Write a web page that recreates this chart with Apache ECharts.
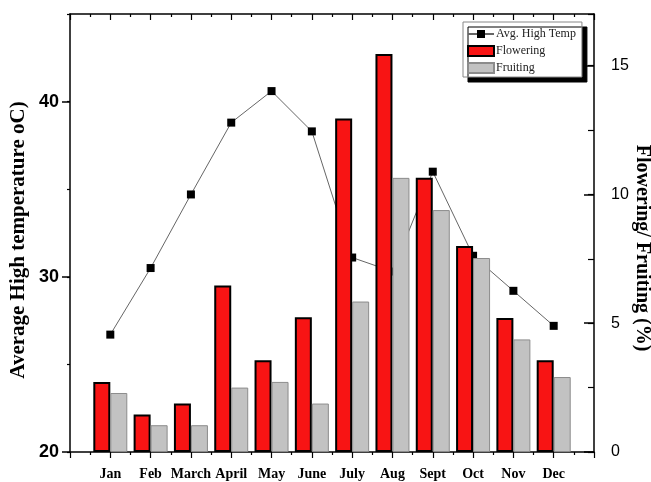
<!DOCTYPE html>
<html><head><meta charset="utf-8">
<script src="https://cdn.jsdelivr.net/npm/echarts@6/dist/echarts.min.js"></script>
<style>html,body{margin:0;padding:0;background:#fff}#c{width:651px;height:482px}</style>
</head><body><div id="c"></div><script>
const months = ['Jan','Feb','March','April','May','June','July','Aug','Sept','Oct','Nov','Dec'];
const avgHighTemp = [26.7, 30.5, 34.7, 38.8, 40.6, 38.3, 31.1, 30.3, 36.0, 31.2, 29.2, 27.2];
const flowering = [2.72, 1.46, 1.88, 6.46, 3.56, 5.23, 12.94, 15.45, 10.64, 8.0, 5.2, 3.56];
const fruiting = [2.29, 1.04, 1.04, 2.5, 2.72, 1.88, 5.84, 10.64, 9.39, 7.53, 4.37, 2.91];

const serif = 'Liberation Serif, Times New Roman, serif';
const sans = 'Liberation Sans, Arial, sans-serif';
const black = { color: '#000', width: 1.5 };
const tickStyle = { color: '#000', width: 1.5 };
const minorStyle = { color: '#000', width: 1.2 };

const chart = echarts.init(document.getElementById('c'), null, { renderer: 'canvas' });
const xBase = {
  type: 'value', min: 0, max: 13, interval: 1,
  axisLine: { show: true, onZero: false, lineStyle: black },
  splitLine: { show: false }, minorSplitLine: { show: false },
  minorTick: { show: true, splitNumber: 2, length: 3, lineStyle: minorStyle }
};
chart.setOption({
  animation: false,
  backgroundColor: '#fff',
  grid: { left: 70, right: 57, top: 14, bottom: 30, containLabel: false, outerBoundsMode: 'none' },
  legend: {
    orient: 'vertical', left: 463, top: 22,
    padding: [6, 6, 3, 4], itemGap: 5, itemWidth: 26, itemHeight: 10,
    backgroundColor: '#fff', borderColor: '#888', borderWidth: 1,
    shadowColor: '#000', shadowBlur: 0, shadowOffsetX: 5, shadowOffsetY: 5,
    textStyle: { fontFamily: serif, fontSize: 12, color: '#222', padding: [0, 0, 0, -3] },
    data: ['Avg. High Temp', { name: 'Flowering', icon: 'rect' }, { name: 'Fruiting', icon: 'rect' }]
  },
  xAxis: [
    Object.assign({}, xBase, {
      position: 'bottom',
      axisTick: { show: true, inside: false, length: 6, lineStyle: minorStyle },
      axisLabel: {
        margin: 15, fontFamily: serif, fontWeight: 'bold', fontSize: 14, color: '#000',
        formatter: v => (v >= 1 && v <= months.length) ? months[v - 1] : ''
      }
    }),
    Object.assign({}, xBase, {
      position: 'top',
      axisTick: { show: true, inside: true, length: 6, lineStyle: minorStyle },
      axisLabel: { show: false }
    })
  ],
  yAxis: [
    {
      type: 'value', position: 'left', min: 20, max: 45, interval: 10,
      name: 'Average High temperature oC)', nameLocation: 'middle', nameGap: 41, nameRotate: 90,
      nameMoveOverlap: false,
      nameTextStyle: { fontFamily: serif, fontWeight: 'bold', fontSize: 21, color: '#000', padding: [0, 14, 0, 0] },
      axisLine: { show: true, onZero: false, lineStyle: black },
      axisTick: { show: true, inside: false, length: 8, lineStyle: tickStyle },
      axisLabel: { showMaxLabel: false, margin: 11, fontFamily: sans, fontWeight: 'bold', fontSize: 18, color: '#000' },
      splitLine: { show: false }
    },
    {
      type: 'value', position: 'right', min: 0, max: 17, interval: 5,
      name: 'Flowering/ Fruiting (%)', nameLocation: 'middle', nameGap: 38, nameRotate: -90,
      nameMoveOverlap: false,
      nameTextStyle: { fontFamily: serif, fontWeight: 'bold', fontSize: 20, color: '#000', padding: [0, 0, 0, 30] },
      axisLine: { show: true, onZero: false, lineStyle: black },
      axisTick: { show: true, inside: true, length: 10, lineStyle: tickStyle },
      axisLabel: { showMaxLabel: false, margin: 17, fontFamily: sans, fontSize: 16, color: '#000' },
      splitLine: { show: false }
    },
    {
      type: 'value', position: 'left', min: 20, max: 45, interval: 5, offset: 0,
      axisLine: { show: false, onZero: false },
      axisTick: { show: true, inside: false, length: 3, lineStyle: minorStyle },
      axisLabel: { show: false }, splitLine: { show: false }
    },
    {
      type: 'value', position: 'right', min: 0, max: 17, interval: 2.5, offset: 0,
      axisLine: { show: false, onZero: false },
      axisTick: { show: true, inside: true, length: 6, lineStyle: minorStyle },
      axisLabel: { show: false }, splitLine: { show: false }
    }
  ],
  series: [
    {
      name: 'Avg. High Temp', type: 'line', xAxisIndex: 0, yAxisIndex: 0, z: 1,
      data: avgHighTemp.map((v, i) => [i + 1, v]),
      symbol: 'rect', symbolSize: 8,
      itemStyle: { color: '#000' },
      lineStyle: { color: '#666', width: 1 }
    },
    {
      name: 'Flowering', type: 'bar', xAxisIndex: 0, yAxisIndex: 1, z: 3,
      data: flowering.map((v, i) => [i + 1, v]),
      barWidth: 17, barGap: '0%',
      itemStyle: { color: '#f81414', borderColor: '#000', borderWidth: 2 }
    },
    {
      name: 'Fruiting', type: 'bar', xAxisIndex: 0, yAxisIndex: 1, z: 3,
      data: fruiting.map((v, i) => [i + 1, v]),
      barWidth: 17, barGap: '0%',
      itemStyle: { color: '#c2c2c2', borderColor: '#8c8c8c', borderWidth: 1 }
    }
  ]
});
</script></body></html>
